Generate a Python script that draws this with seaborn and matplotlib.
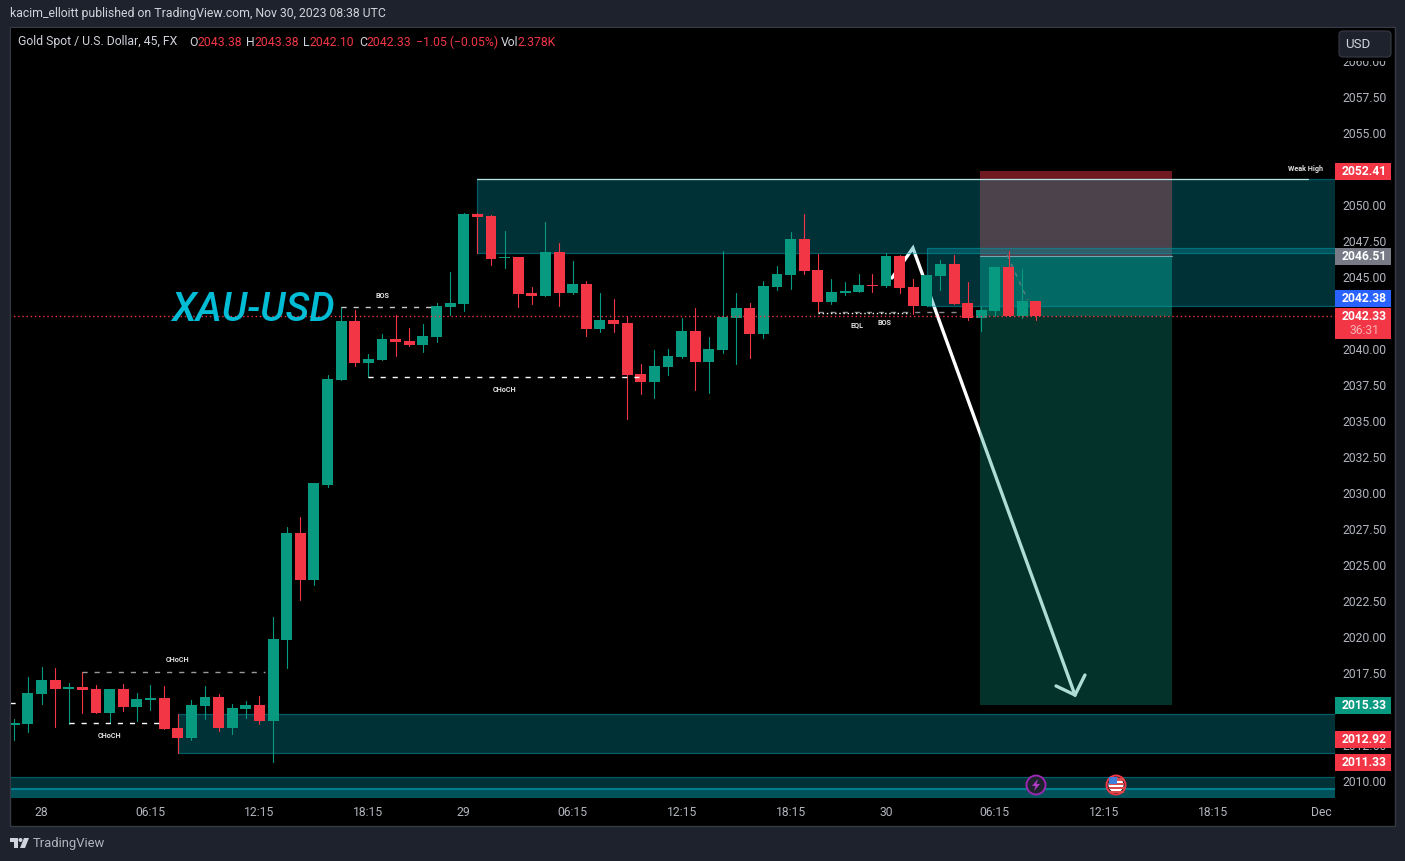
import numpy as np
import pandas as pd
import matplotlib
matplotlib.use("Agg")
import matplotlib.pyplot as plt
import matplotlib.transforms as mtransforms
from matplotlib.patches import Rectangle, Circle, Polygon, FancyBboxPatch
import seaborn as sns

# 45 min candles
OPEN = [2013.96, 2014.03, 2016.11, 2017.08, 2016.46, 2016.60, 2016.46, 2014.79, 2016.46, 2015.21,
        2015.69, 2015.83, 2013.75, 2013.06, 2015.28, 2015.90, 2013.75, 2015.07, 2015.35, 2014.24,
        2019.86, 2027.29, 2024.03, 2030.63, 2037.92, 2042.01, 2039.10, 2039.31, 2040.76, 2040.63,
        2040.35, 2040.90, 2042.99, 2043.19, 2049.44, 2049.31, 2046.39, 2046.46, 2043.96, 2043.75,
        2046.81, 2043.96, 2044.58, 2041.46, 2042.08, 2041.88, 2038.33, 2037.78, 2038.82, 2039.51,
        2041.32, 2039.17, 2040.00, 2042.22, 2042.92, 2041.11, 2044.38, 2045.21, 2047.71, 2045.56,
        2043.33, 2043.96, 2044.03, 2044.51, 2044.44, 2046.53, 2044.38, 2043.06, 2045.14, 2045.97,
        2043.26, 2042.22, 2042.71, 2045.76, 2042.36, 2043.38]
HIGH = [2014.38, 2017.29, 2017.99, 2017.92, 2016.88, 2017.64, 2016.74, 2016.46, 2016.81, 2016.18,
        2016.74, 2016.67, 2014.72, 2015.69, 2016.67, 2016.11, 2015.42, 2015.63, 2015.97, 2021.46,
        2027.71, 2028.40, 2030.76, 2038.26, 2042.99, 2042.78, 2039.72, 2041.11, 2042.43, 2041.53,
        2041.81, 2043.26, 2045.42, 2049.51, 2049.51, 2049.38, 2048.26, 2046.46, 2044.38, 2048.89,
        2047.43, 2046.18, 2044.79, 2043.96, 2043.54, 2042.36, 2039.03, 2040.00, 2040.07, 2042.22,
        2042.92, 2040.90, 2046.88, 2043.96, 2043.26, 2044.79, 2045.83, 2048.19, 2049.44, 2046.67,
        2044.93, 2044.72, 2045.28, 2045.28, 2046.74, 2046.60, 2044.93, 2045.21, 2046.25, 2046.60,
        2044.72, 2042.99, 2045.76, 2046.88, 2045.63, 2043.38]
LOW = [2012.92, 2013.47, 2015.42, 2013.82, 2014.03, 2014.79, 2014.79, 2014.10, 2014.93, 2014.24,
       2015.00, 2013.68, 2012.01, 2012.92, 2014.38, 2013.54, 2013.33, 2014.44, 2014.03, 2011.39,
       2017.92, 2022.64, 2023.68, 2030.49, 2037.92, 2038.89, 2038.13, 2039.31, 2039.58, 2040.28,
       2039.86, 2040.56, 2042.43, 2042.71, 2046.74, 2045.90, 2045.69, 2042.99, 2043.19, 2043.75,
       2043.06, 2043.89, 2040.97, 2041.25, 2041.25, 2035.21, 2036.94, 2036.67, 2038.26, 2039.44,
       2037.22, 2037.01, 2039.79, 2039.03, 2039.44, 2040.83, 2044.17, 2044.24, 2045.28, 2042.64,
       2043.19, 2043.82, 2044.03, 2044.03, 2044.38, 2043.96, 2042.50, 2043.06, 2044.17, 2043.19,
       2042.08, 2041.32, 2042.36, 2042.36, 2042.22, 2042.10]
CLOSE = [2014.10, 2016.18, 2017.08, 2016.46, 2016.60, 2016.39, 2014.79, 2016.46, 2015.21, 2015.76,
         2015.83, 2013.68, 2013.06, 2015.35, 2015.90, 2013.75, 2015.14, 2015.35, 2014.24, 2019.93,
         2027.29, 2024.03, 2030.76, 2037.99, 2042.01, 2039.10, 2039.38, 2040.76, 2040.56, 2040.35,
         2040.97, 2043.06, 2043.26, 2049.44, 2049.24, 2046.32, 2046.46, 2043.89, 2043.75, 2046.81,
         2043.96, 2044.58, 2041.46, 2042.08, 2041.81, 2038.26, 2037.78, 2038.89, 2039.58, 2041.32,
         2039.17, 2040.07, 2042.29, 2042.92, 2041.11, 2044.44, 2045.28, 2047.71, 2045.49, 2043.33,
         2044.03, 2044.10, 2044.51, 2044.44, 2046.53, 2044.31, 2043.06, 2045.21, 2045.97, 2043.19,
         2042.22, 2042.78, 2045.76, 2042.36, 2043.40, 2042.33]

# 2015.00, 2042.50 and 2052.50 sit under price tags, so they get no label
Y_TICKS = [2010.0, 2012.5, 2017.5, 2020.0, 2022.5, 2025.0, 2027.5, 2030.0, 2032.5, 2035.0,
           2037.5, 2040.0, 2045.0, 2047.5, 2050.0, 2055.0, 2057.5, 2060.0]
X_TICKS = [2, 10, 18, 26, 33, 41, 49, 57, 64, 72, 80, 88, 96]
X_LABELS = ["28", "06:15", "12:15", "18:15", "29", "06:15", "12:15", "18:15", "30", "06:15", "12:15", "18:15", "Dec"]

# supply/demand boxes: left bar, top, bottom
ZONE_LEFT = [34, 67, 12]
ZONE_TOP = [2051.88, 2047.08, 2014.72]
ZONE_BOTTOM = [2046.74, 2043.06, 2012.01]

# dashed structure lines: x0, x1, price, colour
LEVEL_X0 = [-0.3, 5, 4, 24, 26, 59]
LEVEL_X1 = [0.6, 18.4, 10.7, 31, 46, 69.6]
LEVEL_PRICE = [2015.49, 2017.64, 2014.10, 2042.99, 2038.13, 2042.64]
LEVEL_COLOR = ["white", "#9a9a9a", "white", "#c8c8c8", "white", "#8a8a8a"]

NOTE_TEXT = ["CHoCH", "CHoCH", "BOS", "CHoCH", "EQL", "BOS", "Weak High"]
NOTE_X = [12, 7, 27, 36, 61.9, 63.9, 94.8]
NOTE_PRICE = [2018.48, 2013.20, 2043.76, 2037.25, 2041.76, 2041.85, 2052.60]

# short position tool
POS_X0, POS_X1 = 70.9, 85.0
POS_STOP, POS_ENTRY, POS_TARGET, POS_NOW = 2052.41, 2046.51, 2015.33, 2042.33

ARROW_X = [64.44, 65.98, 77.88]
ARROW_Y = [2045.0, 2047.08, 2016.04]
ARROW_HEAD_X = [76.49, 77.88, 78.61]
ARROW_HEAD_Y = [2016.67, 2016.04, 2017.43]

# price tags on the right scale
TAG_PRICE = [2052.41, 2046.51, 2042.38, 2042.33, 2015.33, 2012.92, 2011.33]
TAG_LABEL = ["2052.41", "2046.51", "2042.38", "2042.33", "2015.33", "2012.92", "2011.33"]
TAG_COLOR = ["#f23645", "#787b86", "#2962ff", "#f23645", "#089981", "#f23645", "#f23645"]

GREEN = "#089981"
RED = "#f23645"
PANEL = "#1e222d"
TEXT = "#b2b5be"
FONT = "Roboto"

sns.set_theme(style="dark", rc={"axes.facecolor": "black", "figure.facecolor": PANEL})
plt.rcParams["font.family"] = [FONT, "DejaVu Sans"]

fig = plt.figure(figsize=(14.05, 8.61), dpi=100)
ax = fig.add_axes([11 / 1405, 1 - 798 / 861, 1324 / 1405, 770 / 861])
PX = mtransforms.Affine2D().scale(1, -1).translate(0, 861)  # pixels from top left

fig.add_artist(Rectangle((10, 27), 1385, 799, transform=PX, facecolor="black", edgecolor="#363a45", lw=1, zorder=-1))

candles = pd.DataFrame({"idx": np.arange(len(OPEN)), "open": OPEN, "high": HIGH, "low": LOW, "close": CLOSE})
candles["dir"] = np.where(candles["close"] >= candles["open"], "up", "down")
candles["base"] = candles[["open", "close"]].min(axis=1)
candles["height"] = (candles["close"] - candles["open"]).abs()

# wicks
wicks = candles.melt(id_vars=["idx", "dir"], value_vars=["high", "low"], value_name="price")
sns.lineplot(data=wicks, x="idx", y="price", units="idx", hue="dir", estimator=None, sort=False,
             palette={"up": GREEN, "down": RED}, linewidth=0.8, legend=False, ax=ax, zorder=5)

# bodies
for direction, color in [("up", GREEN), ("down", RED)]:
    part = candles[candles["dir"] == direction]
    sns.barplot(data=part, x="idx", y="height", bottom=part["base"].to_numpy(), orient="x", native_scale=True,
                color=color, saturation=1, width=0.8, errorbar=None, linewidth=0, ax=ax, zorder=6)

# arrow sits under the position tool and the zones
ax.plot(ARROW_X, ARROW_Y, color="white", lw=2.4, zorder=2, solid_joinstyle="miter")
ax.plot(ARROW_HEAD_X, ARROW_HEAD_Y, color="white", lw=2.4, zorder=2, solid_joinstyle="miter")

pos_w = POS_X1 - POS_X0
ax.add_patch(Rectangle((POS_X0, POS_TARGET), pos_w, POS_ENTRY - POS_TARGET, facecolor=GREEN, alpha=0.33, lw=0, zorder=3))
ax.add_patch(Rectangle((POS_X0, POS_NOW), pos_w, POS_ENTRY - POS_NOW, facecolor=GREEN, alpha=0.33, lw=0, zorder=3))
ax.add_patch(Rectangle((POS_X0, POS_ENTRY), pos_w, POS_STOP - POS_ENTRY, facecolor=RED, alpha=0.47, lw=0, zorder=3))
ax.plot([POS_X0, POS_X1], [POS_ENTRY, POS_ENTRY], color="#a9aeb8", lw=0.8, zorder=4)

zone_fill = (0, 0.592, 0.655, 0.33)
zone_edge = (0, 0.592, 0.655, 0.55)
for left, top, bottom in zip(ZONE_LEFT, ZONE_TOP, ZONE_BOTTOM):
    ax.add_patch(Rectangle((left, bottom), 98 - left, top - bottom, facecolor=zone_fill,
                           edgecolor=zone_edge, lw=0.9, zorder=4))
ax.plot([34, 95], [ZONE_TOP[0], ZONE_TOP[0]], color="#b8e0dc", lw=0.9, zorder=4)

# band along the bottom of the pane
ax.add_patch(Rectangle((-1, 2008), 99, 2.35, facecolor=zone_fill, edgecolor=zone_edge, lw=0.9, zorder=4))
ax.add_patch(Rectangle((-1, 2008), 99, 1.52, facecolor=zone_fill, lw=0, zorder=4))
ax.plot([-1, 98], [2009.5, 2009.5], color="#00808c", lw=1.5, zorder=4)

for x0, x1, price, color in zip(LEVEL_X0, LEVEL_X1, LEVEL_PRICE, LEVEL_COLOR):
    ax.plot([x0, x1], [price, price], color=color, lw=1.0, ls=(0, (3.7, 5)), zorder=7)
ax.plot([59, 65.8], [2042.57, 2042.57], color="white", lw=1.0, ls=(0, (1, 2)), zorder=7)
ax.plot([72.9, 74.4], [2046.6, 2043.47], color="#5f8080", lw=1.0, ls=(0, (3, 4)), zorder=4)
ax.plot([-1, 98], [POS_NOW, POS_NOW], color=RED, lw=1.0, ls=(0, (1, 2)), zorder=7)

for note, x, price in zip(NOTE_TEXT, NOTE_X, NOTE_PRICE):
    ax.text(x, price, note, color="#e0e0e0", fontsize=5.2, fontweight="bold", ha="center", va="center", zorder=8)

ax.text(11.55, 2042.75, "XAU-USD", color="#00bcd4", fontsize=29, style="italic", fontweight="medium",
        ha="left", va="center", zorder=8)

ax.set_xlim(-0.242, 96.97)
ax.set_ylim(2008.89, 2062.36)
ax.set_xticks(X_TICKS, X_LABELS)
ax.set_yticks(Y_TICKS, [f"{v:.2f}" for v in Y_TICKS])
ax.yaxis.tick_right()
ax.tick_params(axis="both", length=0, labelcolor=TEXT, labelsize=8.7)
ax.tick_params(axis="x", pad=6)
ax.tick_params(axis="y", pad=5.2)
ax.set_xlabel("")
ax.set_ylabel("")
ax.grid(False)
sns.despine(ax=ax, left=True, bottom=True, right=True, top=True)

# scale labels sit one pixel above their gridline
nudge = mtransforms.Affine2D().translate(0, 1)
for label in ax.get_yticklabels():
    label.set_transform(label.get_transform() + nudge)

# price tags
tag_tf = mtransforms.blended_transform_factory(PX, ax.transData)
for price, label, color in zip(TAG_PRICE, TAG_LABEL, TAG_COLOR):
    shown = price + (17 / 14.4 if label == "2042.38" else 0)
    extra = 14 / 14.4 if label == "2042.33" else 0
    ax.add_patch(Rectangle((1335, shown - 0.59 - extra), 56, 1.18 + extra, transform=tag_tf, facecolor=color,
                           lw=0, clip_on=False, zorder=10))
    ax.text(1364, shown, label, transform=tag_tf, color="white", fontsize=8.7, fontweight="bold",
            ha="center", va="center", clip_on=False, zorder=11)
ax.text(1364, POS_NOW - 14.5 / 14.4, "36:31", transform=tag_tf, color="#f9b0b6", fontsize=8.7, ha="center", va="center",
        clip_on=False, zorder=11)

# USD button, it hides the top of the 2060.00 label
ax.add_patch(Rectangle((1336, 28), 58, 33, transform=PX, facecolor="black", lw=0, clip_on=False, zorder=10))
ax.add_patch(FancyBboxPatch((1341, 33), 48, 22, boxstyle="round,pad=2,rounding_size=4", transform=PX, facecolor=PANEL,
                            edgecolor="#363a45", lw=0.8, clip_on=False, zorder=11))
ax.text(1358, 44.5, "USD", transform=PX, color="#d1d4dc", fontsize=9.5, ha="center", va="center", clip_on=False, zorder=12)

# event icons on the time axis
for cx, edge in [(1036, "#9c27b0"), (1116, RED)]:
    ax.add_patch(Circle((cx, 785), 9.5, transform=PX, facecolor=PANEL, edgecolor=edge, lw=1.4, clip_on=False, zorder=10))
ax.add_patch(Polygon([(1038, 779), (1032, 786), (1035.5, 786), (1034, 791), (1040, 784), (1036.5, 784)], transform=PX,
                     facecolor="#b23cc8", lw=0, clip_on=False, zorder=11))
flag = Circle((1116, 785), 7.5, transform=PX, facecolor="white", lw=0, clip_on=False, zorder=11)
ax.add_patch(flag)
for y0, h, c, w, x0 in [(778, 3, "#d94a4a", 15, 1108.5), (783, 2, "#d94a4a", 15, 1108.5), (787, 2, "#d94a4a", 15, 1108.5),
                        (791, 2, "#d94a4a", 15, 1108.5), (777, 7, "#3f7fd9", 8, 1108.5)]:
    stripe = Rectangle((x0, y0), w, h, transform=PX, facecolor=c, lw=0, clip_on=False, zorder=12)
    ax.add_patch(stripe)
    stripe.set_clip_path(flag)

# header text
fig.text(10, 14, "kacim_elloitt published on TradingView.com, Nov 30, 2023 08:38 UTC", transform=PX, color="#d1d4dc",
         fontsize=8.8, va="center")
LEGEND_X = [18, 189.4, 197, 246, 254.5, 303.5, 310, 359, 366.6, 416, 501, 518]
LEGEND_TEXT = ["Gold Spot / U.S. Dollar, 45, FX", "O", "2043.38", "H", "2043.38", "L", "2042.10", "C", "2042.33",
               "\u22121.05 (\u22120.05%)", "Vol", "2.378K"]
LEGEND_COLOR = ["#d1d4dc", "#d1d4dc", RED, "#d1d4dc", RED, "#d1d4dc", RED, "#d1d4dc", RED, RED, "#d1d4dc", RED]
for x, s, c in zip(LEGEND_X, LEGEND_TEXT, LEGEND_COLOR):
    fig.text(x, 42, s, transform=PX, color=c, fontsize=8.8, va="center")

# footer logo
fig.add_artist(Polygon([(10, 838), (18, 838), (18, 848), (14, 848), (14, 842), (10, 842)], transform=PX, facecolor="#d1d4dc", lw=0))
fig.add_artist(Circle((20.5, 840), 2, transform=PX, facecolor="#d1d4dc", lw=0))
fig.add_artist(Polygon([(24, 838), (29, 838), (25, 848), (20, 848)], transform=PX, facecolor="#d1d4dc", lw=0))
fig.text(33, 843.5, "TradingView", transform=PX, color=TEXT, fontsize=9.4, va="center")

fig.savefig("out.png", dpi=100)
